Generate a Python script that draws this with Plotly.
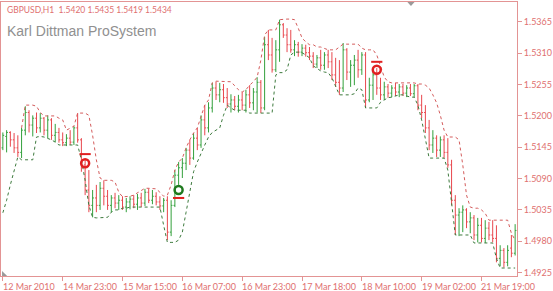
import plotly.graph_objects as go

# ---------------- data ----------------
bar_index = list(range(138))

opens = [1.5144,1.5164,1.5171,1.5158,1.5144,1.5136,1.5175,1.5206,1.5184,1.5196,
         1.5179,1.5196,1.5175,1.5193,1.5166,1.5171,1.5158,1.5153,1.5161,1.5154,
         1.5179,1.5158,1.5114,1.5070,1.5043,1.5056,1.5043,1.5073,1.5059,1.5043,
         1.5056,1.5047,1.5052,1.5040,1.5049,1.5054,1.5045,1.5056,1.5047,1.5066,
         1.5052,1.5059,1.5049,1.5042,1.5052,1.4996,1.5043,1.5096,1.5109,1.5117,
         1.5140,1.5126,1.5161,1.5149,1.5193,1.5179,1.5214,1.5249,1.5237,1.5246,
         1.5232,1.5221,1.5228,1.5217,1.5228,1.5219,1.5237,1.5223,1.5242,1.5259,
         1.5214,1.5325,1.5307,1.5281,1.5316,1.5360,1.5342,1.5325,1.5316,1.5325,
         1.5312,1.5319,1.5311,1.5305,1.5291,1.5302,1.5289,1.5307,1.5295,1.5272,
         1.5259,1.5249,1.5316,1.5277,1.5289,1.5298,1.5281,1.5307,1.5228,1.5254,
         1.5272,1.5249,1.5237,1.5251,1.5240,1.5249,1.5242,1.5251,1.5240,1.5249,
         1.5239,1.5253,1.5219,1.5206,1.5179,1.5149,1.5161,1.5140,1.5158,1.5136,
         1.5114,1.5052,1.5026,1.5031,1.5035,1.5014,1.5021,1.4991,1.5008,1.4985,
         1.5003,1.4991,1.4985,1.4950,1.4964,1.4943,1.4968,1.4959]
highs = [1.5171,1.5175,1.5173,1.5170,1.5166,1.5179,1.5217,1.5210,1.5201,1.5206,
         1.5205,1.5198,1.5201,1.5196,1.5186,1.5179,1.5171,1.5168,1.5175,1.5182,
         1.5205,1.5161,1.5123,1.5105,1.5070,1.5079,1.5084,1.5087,1.5070,1.5061,
         1.5065,1.5061,1.5059,1.5056,1.5059,1.5061,1.5063,1.5065,1.5072,1.5073,
         1.5070,1.5066,1.5059,1.5056,1.5059,1.5052,1.5105,1.5119,1.5126,1.5144,
         1.5158,1.5170,1.5179,1.5201,1.5219,1.5224,1.5258,1.5260,1.5258,1.5256,
         1.5249,1.5238,1.5235,1.5237,1.5242,1.5246,1.5254,1.5249,1.5268,1.5263,
         1.5339,1.5351,1.5337,1.5333,1.5369,1.5363,1.5354,1.5351,1.5333,1.5330,
         1.5326,1.5325,1.5321,1.5312,1.5307,1.5316,1.5312,1.5316,1.5312,1.5302,
         1.5298,1.5328,1.5319,1.5298,1.5307,1.5316,1.5312,1.5312,1.5267,1.5281,
         1.5284,1.5267,1.5260,1.5256,1.5254,1.5258,1.5256,1.5256,1.5254,1.5256,
         1.5256,1.5256,1.5237,1.5219,1.5193,1.5175,1.5166,1.5164,1.5166,1.5161,
         1.5123,1.5061,1.5038,1.5043,1.5038,1.5031,1.5026,1.5021,1.5021,1.5017,
         1.5014,1.5017,1.5008,1.4973,1.4968,1.4973,1.4991,1.5010]
lows = [1.5140,1.5136,1.5146,1.5135,1.5128,1.5126,1.5166,1.5171,1.5164,1.5170,
        1.5171,1.5166,1.5161,1.5158,1.5154,1.5153,1.5147,1.5147,1.5149,1.5149,
        1.5153,1.5102,1.5061,1.5031,1.5022,1.5031,1.5035,1.5043,1.5035,1.5031,
        1.5038,1.5035,1.5035,1.5031,1.5036,1.5038,1.5035,1.5040,1.5042,1.5047,
        1.5045,1.5043,1.5035,1.5031,1.4982,1.4989,1.5040,1.5079,1.5091,1.5105,
        1.5114,1.5123,1.5140,1.5144,1.5166,1.5171,1.5206,1.5228,1.5224,1.5223,
        1.5214,1.5206,1.5210,1.5206,1.5210,1.5206,1.5214,1.5210,1.5206,1.5205,
        1.5210,1.5298,1.5276,1.5277,1.5295,1.5337,1.5312,1.5311,1.5305,1.5304,
        1.5305,1.5304,1.5298,1.5284,1.5284,1.5281,1.5281,1.5284,1.5263,1.5251,
        1.5237,1.5242,1.5263,1.5251,1.5254,1.5267,1.5272,1.5214,1.5224,1.5228,
        1.5237,1.5228,1.5228,1.5232,1.5233,1.5235,1.5233,1.5235,1.5233,1.5235,
        1.5233,1.5210,1.5196,1.5170,1.5140,1.5135,1.5128,1.5128,1.5126,1.5109,
        1.5043,1.4991,1.4989,1.4996,1.5003,1.4994,1.4982,1.4978,1.4978,1.4977,
        1.4982,1.4978,1.4943,1.4936,1.4934,1.4936,1.4952,1.4955]
closes = [1.5166,1.5171,1.5158,1.5144,1.5136,1.5175,1.5206,1.5184,1.5196,1.5179,
          1.5196,1.5175,1.5193,1.5166,1.5171,1.5158,1.5153,1.5161,1.5154,1.5179,
          1.5158,1.5114,1.5070,1.5043,1.5056,1.5043,1.5073,1.5059,1.5043,1.5056,
          1.5047,1.5052,1.5040,1.5049,1.5054,1.5045,1.5056,1.5047,1.5066,1.5052,
          1.5059,1.5049,1.5042,1.5052,1.4996,1.5043,1.5096,1.5109,1.5117,1.5140,
          1.5126,1.5161,1.5149,1.5193,1.5179,1.5214,1.5249,1.5237,1.5246,1.5232,
          1.5221,1.5228,1.5217,1.5228,1.5219,1.5237,1.5223,1.5242,1.5259,1.5214,
          1.5325,1.5307,1.5281,1.5316,1.5360,1.5342,1.5325,1.5316,1.5325,1.5312,
          1.5319,1.5311,1.5305,1.5291,1.5302,1.5289,1.5307,1.5295,1.5272,1.5259,
          1.5249,1.5316,1.5277,1.5289,1.5298,1.5281,1.5307,1.5228,1.5254,1.5272,
          1.5249,1.5237,1.5251,1.5240,1.5249,1.5242,1.5251,1.5240,1.5249,1.5239,
          1.5253,1.5219,1.5206,1.5179,1.5149,1.5161,1.5140,1.5158,1.5136,1.5114,
          1.5052,1.5026,1.5031,1.5035,1.5014,1.5021,1.4991,1.5008,1.4985,1.5003,
          1.4991,1.4985,1.4950,1.4964,1.4943,1.4964,1.4959,1.4999]

upper_band = [None,None,None,None,None,1.5179,1.5219,1.5219,1.5219,1.5217,
              1.5206,1.5200,1.5200,1.5200,1.5200,1.5196,1.5193,1.5175,1.5179,1.5182,
              1.5205,1.5205,1.5205,1.5201,1.5166,1.5123,1.5091,1.5087,1.5087,1.5087,
              1.5084,1.5066,1.5058,1.5058,1.5059,1.5061,1.5065,1.5070,1.5073,1.5073,
              1.5073,1.5072,1.5066,1.5059,1.5061,1.5079,1.5105,1.5119,1.5126,1.5144,
              1.5158,1.5170,1.5179,1.5201,1.5219,1.5228,1.5258,1.5261,1.5261,1.5261,
              1.5261,1.5260,1.5253,1.5246,1.5242,1.5246,1.5254,1.5260,1.5268,1.5298,
              1.5342,1.5351,1.5351,1.5351,1.5369,1.5370,1.5370,1.5370,1.5369,1.5354,
              1.5337,1.5330,1.5325,1.5325,1.5321,1.5321,1.5319,1.5316,1.5316,1.5316,
              1.5321,1.5326,1.5326,1.5326,1.5326,1.5326,1.5319,1.5316,1.5316,1.5316,
              1.5307,1.5289,1.5268,1.5260,1.5258,1.5258,1.5258,1.5258,1.5258,1.5258,
              1.5258,1.5256,1.5256,1.5254,1.5249,1.5237,1.5223,1.5201,1.5175,1.5163,
              1.5163,1.5163,1.5158,1.5114,1.5061,1.5040,1.5038,1.5038,1.5035,1.5029,
              1.5017,1.5017,1.5017,1.5017,1.5017,1.5017,1.4994,1.4982]
lower_band = [1.5030,1.5052,1.5079,1.5105,1.5128,1.5123,1.5123,1.5123,1.5123,1.5163,
              1.5164,1.5163,1.5161,1.5158,1.5154,1.5149,1.5149,1.5149,1.5149,1.5149,
              1.5149,1.5123,1.5087,1.5043,1.5022,1.5021,1.5021,1.5021,1.5022,1.5031,
              1.5035,1.5035,1.5038,1.5038,1.5040,1.5040,1.5040,1.5040,1.5040,1.5040,
              1.5040,1.5040,1.5040,1.5008,1.4978,1.4978,1.4978,1.4982,1.4996,1.5031,
              1.5070,1.5102,1.5119,1.5135,1.5149,1.5163,1.5171,1.5175,1.5179,1.5201,
              1.5219,1.5214,1.5210,1.5210,1.5210,1.5210,1.5205,1.5205,1.5205,1.5205,
              1.5205,1.5205,1.5205,1.5272,1.5276,1.5276,1.5281,1.5307,1.5312,1.5312,
              1.5311,1.5307,1.5302,1.5288,1.5283,1.5279,1.5277,1.5276,1.5267,1.5251,
              1.5237,1.5237,1.5237,1.5237,1.5239,1.5249,1.5246,1.5214,1.5214,1.5214,
              1.5214,1.5224,1.5228,1.5232,1.5233,1.5235,1.5237,1.5237,1.5235,1.5233,
              1.5233,1.5219,1.5193,1.5158,1.5126,1.5126,1.5126,1.5126,1.5126,1.5105,
              1.5043,1.4991,1.4991,1.4991,1.4991,1.4991,1.4977,1.4977,1.4977,1.4977,
              1.4977,1.4977,1.4950,1.4933,1.4933,1.4933,1.4933,1.4933]

signal_x = [22, 47, 100]
signal_y = [1.5117, 1.5070, 1.5281]
signal_dash_y = [1.5133, 1.5056, 1.5295]
signal_colors = ["#e02020", "#1f7a1f", "#e02020"]
signal_dash_colors = ["#e02020", "#e02020", "#e02020"]

time_tick_index = [0, 16, 32, 48, 64, 80, 96, 112, 128]
time_tick_labels = ["12 Mar 2010", "14 Mar 23:00", "15 Mar 15:00", "16 Mar 07:00",
                    "16 Mar 23:00", "17 Mar 18:00", "18 Mar 10:00", "19 Mar 02:00",
                    "21 Mar 19:00"]
price_ticks = [1.4925, 1.4980, 1.5035, 1.5090, 1.5145, 1.5200, 1.5255, 1.5310, 1.5365]
price_tick_labels = ["1.4925", "1.4980", "1.5035", "1.5090", "1.5145", "1.5200",
                     "1.5255", "1.5310", "1.5365"]

# ---------------- figure ----------------
AXIS_COLOR = "#e39494"
LABEL_COLOR = "#e07070"

fig = go.Figure()

fig.add_trace(go.Scatter(x=bar_index, y=upper_band, mode="lines",
                         line=dict(color="#d45c5c", width=1, dash="3px,3px"),
                         hoverinfo="skip", connectgaps=False))
fig.add_trace(go.Scatter(x=bar_index, y=lower_band, mode="lines",
                         line=dict(color="#3d7a3d", width=1, dash="3px,3px"),
                         hoverinfo="skip"))

fig.add_trace(go.Ohlc(x=bar_index, open=opens, high=highs, low=lows, close=closes,
                      increasing=dict(line=dict(color="#33a03c", width=1)),
                      decreasing=dict(line=dict(color="#e8474d", width=1)),
                      tickwidth=0.35, hoverinfo="skip"))

fig.add_trace(go.Scatter(x=signal_x, y=signal_dash_y, mode="markers",
                         marker=dict(symbol="line-ew", size=8,
                                     line=dict(color=signal_dash_colors, width=2)),
                         hoverinfo="skip"))
fig.add_trace(go.Scatter(x=signal_x, y=signal_y, mode="markers",
                         marker=dict(symbol="circle-open", size=8,
                                     color=signal_colors,
                                     line=dict(color=signal_colors, width=2.5)),
                         hoverinfo="skip"))

annotations = []
for idx, lab in zip(time_tick_index, time_tick_labels):
    annotations.append(dict(x=idx, y=0, xref="x", yref="paper", text=lab,
                            showarrow=False, xanchor="left", yanchor="top",
                            xshift=-2, yshift=-3,
                            font=dict(family="Lato", size=9, color=LABEL_COLOR)))
annotations.append(dict(x=0, y=1, xref="paper", yref="paper",
                        text="GBPUSD,H1  1.5420 1.5435 1.5419 1.5434",
                        showarrow=False, xanchor="left", yanchor="top",
                        xshift=4, yshift=-1,
                        font=dict(family="Lato", size=8.5, color=LABEL_COLOR)))
annotations.append(dict(x=0, y=1, xref="paper", yref="paper",
                        text="Karl Dittman ProSystem",
                        showarrow=False, xanchor="left", yanchor="top",
                        xshift=4, yshift=-19,
                        font=dict(family="Liberation Sans", size=14, color="#909090")))

shapes = [
    dict(type="path", xref="paper", yref="paper",
         path="M 0.7875 1 L 0.8015 1 L 0.7945 0.985 Z",
         fillcolor="#9a9a9a", line=dict(width=0)),
    dict(type="path", xref="paper", yref="paper",
         path="M 0.002 0 L 0.002 0.018 L 0.012 0 Z",
         fillcolor="#9a9a9a", line=dict(width=0)),
]

fig.update_layout(
    width=553, height=291,
    margin=dict(l=1, r=36, t=2, b=15),
    paper_bgcolor="white", plot_bgcolor="white",
    showlegend=False,
    annotations=annotations,
    shapes=shapes,
    xaxis=dict(range=[-0.5, 137.5], rangeslider=dict(visible=False),
               showgrid=False, zeroline=False,
               showline=True, mirror=True, linecolor=AXIS_COLOR, linewidth=1,
               tickmode="array", tickvals=time_tick_index, ticktext=[""] * len(time_tick_index),
               ticks="outside", ticklen=4, tickcolor=AXIS_COLOR, showticklabels=False),
    yaxis=dict(range=[1.4919, 1.5400], side="right",
               showgrid=False, zeroline=False,
               showline=True, mirror=True, linecolor=AXIS_COLOR, linewidth=1,
               tickmode="array", tickvals=price_ticks, ticktext=price_tick_labels,
               ticks="outside", ticklen=4, tickcolor=AXIS_COLOR,
               tickfont=dict(family="Lato", size=9, color=LABEL_COLOR)),
)

fig.write_html("out.html")
